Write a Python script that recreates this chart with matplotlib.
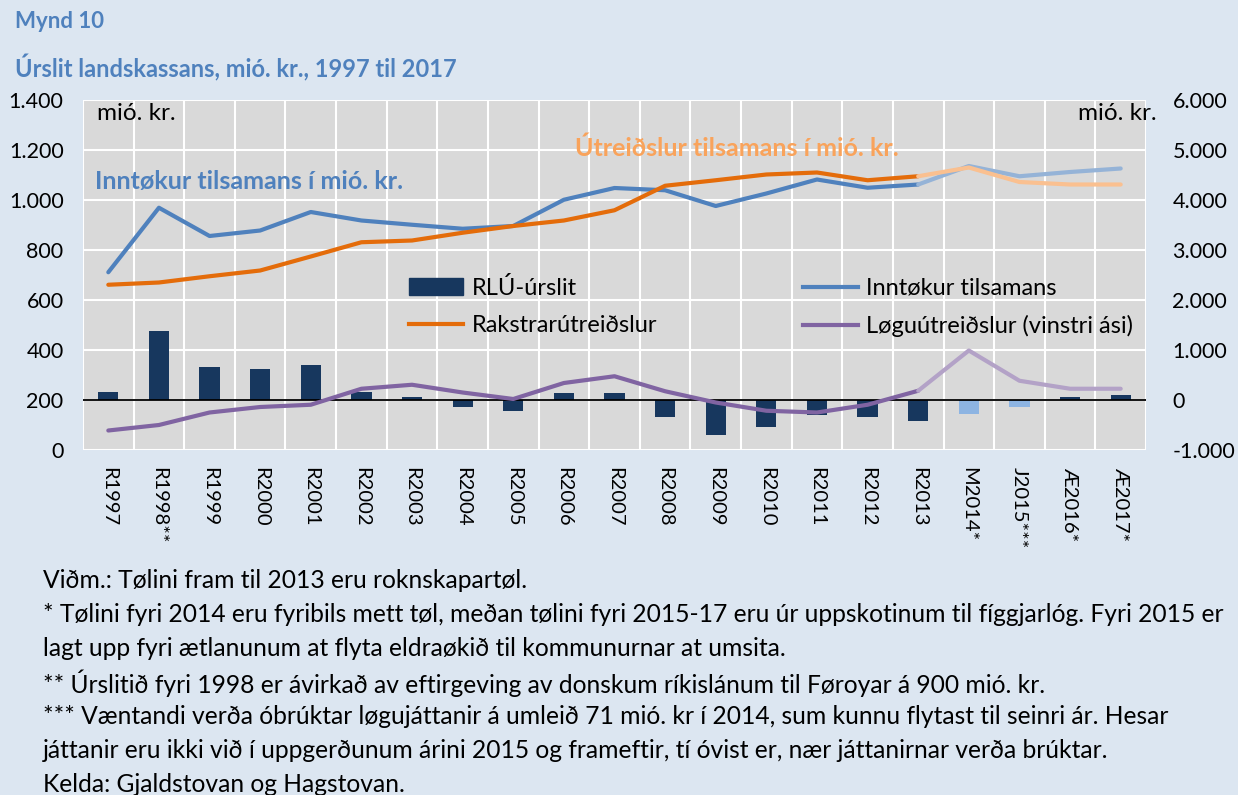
import numpy as np
import matplotlib
matplotlib.use("Agg")
import matplotlib.pyplot as plt
from matplotlib.ticker import FuncFormatter, MultipleLocator
from matplotlib.lines import Line2D
from matplotlib.patches import Patch

plt.rcParams["font.family"] = ["Lato", "DejaVu Sans"]

# ---- data (mió. kr.) ----
categories = ["R1997", "R1998**", "R1999", "R2000", "R2001", "R2002", "R2003",
              "R2004", "R2005", "R2006", "R2007", "R2008", "R2009", "R2010",
              "R2011", "R2012", "R2013", "M2014*", "J2015***", "Æ2016*", "Æ2017*"]
# right axis
rlu_urslit = [170, 1375, 655, 620, 695, 170, 55, -130, -215, 140, 140,
              -330, -700, -530, -300, -330, -415, -285, -130, 55, 105]
inntokur = [2555, 3845, 3280, 3390, 3760, 3590, 3505, 3425, 3480, 4005, 4240,
            4195, 3880, 4130, 4410, 4245, 4310, 4680, 4475, 4560, 4630]
rakstrar = [2305, 2350, 2475, 2590, 2870, 3155, 3190, 3345, 3480, 3590, 3795,
            4285, 4395, 4510, 4550, 4395, 4475, 4650, 4360, 4310, 4310]
# left axis
loguutreidslur = [78, 100, 150, 172, 181, 245, 261, 230, 204, 268, 295,
                  235, 190, 157, 150, 181, 237, 398, 277, 245, 245]

NAVY, LIGHT_BAR = "#17375E", "#8DB4E2"
BLUE, BLUE_L = "#4F81BD", "#95B3D7"
ORANGE, ORANGE_L = "#E46C0A", "#FAC090"
PURPLE, PURPLE_L = "#8064A2", "#B3A2C7"
BG, PLOT_BG = "#DCE6F1", "#D9D9D9"
SPLIT = categories.index("R2013")

fig = plt.figure(figsize=(12.38, 7.95), dpi=100, facecolor=BG)
ax = fig.add_axes([83 / 1238, 1 - 450 / 795, 1063 / 1238, 350 / 795])
ax2 = ax.twinx()

x = np.arange(len(categories))

ax.set_facecolor(PLOT_BG)
ax.set_ylim(0, 1400)
ax.set_xlim(-0.5, len(categories) - 0.5)
ax.yaxis.set_major_locator(MultipleLocator(200))
ax.set_xticks(x)
ax.set_xticks(np.arange(len(categories) + 1) - 0.5, minor=True)
ax.grid(axis="y", which="major", color="white", lw=1.5)
ax.grid(axis="x", which="minor", color="white", lw=1.5)
ax.set_axisbelow(True)

ax2.set_ylim(-1000, 6000)
ax2.yaxis.set_major_locator(MultipleLocator(1000))

fmt = FuncFormatter(lambda v, _: f"{v:,.0f}".replace(",", "."))
ax.yaxis.set_major_formatter(fmt)
ax2.yaxis.set_major_formatter(fmt)

for a in (ax, ax2):
    for s in a.spines.values():
        s.set_visible(False)
    a.tick_params(axis="both", which="both", length=0, labelsize=15.5)
ax.tick_params(axis="y", pad=14)
ax2.tick_params(axis="y", pad=19)
ax.set_xticklabels(categories, rotation=-90, va="top", ha="center", fontsize=14.5)
ax.tick_params(axis="x", pad=12)

# bars (right axis)
bar_colors = [LIGHT_BAR if c[0] in "MJ" else NAVY for c in categories]
ax2.bar(x, rlu_urslit, width=0.4, color=bar_colors, zorder=2)
ax2.axhline(0, color="black", lw=1.3, zorder=3)

# lines: dark up to 2013, light afterwards
def split_line(axis, vals, dark, light, transform=None):
    kw = {} if transform is None else {"transform": transform}
    axis.plot(x[:SPLIT + 1], vals[:SPLIT + 1], color=dark, lw=3,
              solid_capstyle="round", zorder=4, **kw)
    axis.plot(x[SPLIT:], vals[SPLIT:], color=light, lw=3,
              solid_capstyle="round", zorder=4, **kw)

split_line(ax2, inntokur, BLUE, BLUE_L)
split_line(ax2, rakstrar, ORANGE, ORANGE_L)
split_line(ax2, loguutreidslur, PURPLE, PURPLE_L, transform=ax.transData)
ax2.set_ylim(-1000, 6000)

# legend
handles = [Patch(color=NAVY), Line2D([], [], color=ORANGE, lw=3),
           Line2D([], [], color=BLUE, lw=3), Line2D([], [], color=PURPLE, lw=3)]
labels = ["RLÚ-úrslit", "Rakstrarútreiðslur",
          "Inntøkur tilsamans", "Løguútreiðslur (vinstri ási)"]
fig.legend(handles, labels, ncol=2, loc="upper left",
           bbox_to_anchor=(390 / 1238, 1 - 258 / 795), frameon=False,
           fontsize=17, handlelength=2.3, handletextpad=0.35,
           columnspacing=6.2, labelspacing=0.68, borderpad=0.3)

# annotations
fig.text(97 / 1238, 1 - 113 / 795, "mió. kr.", fontsize=17.5, va="center")
fig.text(1078 / 1238, 1 - 113 / 795, "mió. kr.", fontsize=17.5, va="center")
fig.text(95 / 1238, 1 - 182 / 795, "Inntøkur tilsamans í mió. kr.",
         fontsize=18, fontweight="bold", color=BLUE, va="center")
fig.text(575 / 1238, 1 - 148 / 795, "Útreiðslur tilsamans í mió. kr.",
         fontsize=18, fontweight="bold", color="#F9A35B", va="center")

fig.text(15 / 1238, 1 - 21 / 795, "Mynd 10", fontsize=16, fontweight="bold",
         color=BLUE, va="center")
fig.text(15 / 1238, 1 - 68 / 795, "Úrslit landskassans, mió. kr., 1997 til 2017",
         fontsize=17, fontweight="bold", color=BLUE, va="center")

notes = [
    "Viðm.: Tølini fram til 2013 eru roknskapartøl.",
    "* Tølini fyri 2014 eru fyribils mett tøl, meðan tølini fyri 2015-17 eru úr "
    "uppskotinum til fíggjarlóg. Fyri 2015 er",
    "lagt upp fyri ætlanunum at flyta eldraøkið til kommunurnar at umsita.",
    "** Úrslitið fyri 1998 er ávirkað av eftirgeving av donskum ríkislánum til "
    "Føroyar á 900 mió. kr.",
    "*** Væntandi verða óbrúktar løgujáttanir á umleið 71 mió. kr í 2014, sum "
    "kunnu flytast til seinri ár. Hesar",
    "játtanir eru ikki við í uppgerðunum árini 2015 og frameftir, tí óvist er, "
    "nær játtanirnar verða brúktar.",
    "Kelda: Gjaldstovan og Hagstovan.",
]
for i, line in enumerate(notes):
    fig.text(43 / 1238, 1 - (581 + i * 34) / 795, line, fontsize=17.7, va="center")

fig.savefig("out.png", dpi=100, facecolor=BG)
